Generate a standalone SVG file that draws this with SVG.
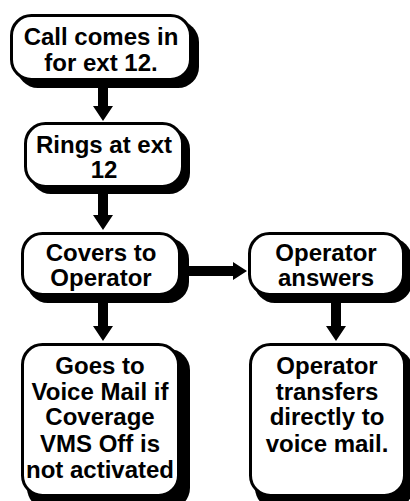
<svg xmlns="http://www.w3.org/2000/svg" width="410" height="501" viewBox="0 0 410 501">
<style>
.sh{fill:#000}
.bx{fill:#fff;stroke:#000;stroke-width:3}
.t{font-family:"Liberation Sans",Arial,sans-serif;font-weight:bold;font-size:24px;fill:#000;text-anchor:middle}
.ar{fill:#000}
</style>
<rect width="410" height="501" fill="#fff"/>
<g id="connectors">
<path class="ar" d="M98,86 H108 V106 H113 L103,121 L93,106 H98 Z"/>
<path class="ar" d="M98,194 H108 V215 H113 L103,230 L93,215 H98 Z"/>
<path class="ar" d="M98,301 H108 V326 H113 L103,341 L93,326 H98 Z"/>
<path class="ar" d="M331,301 H341 V326 H346 L336,341 L326,326 H331 Z"/>
<path class="ar" d="M188,266 H233 V262 L247,271 L233,280 V276 H188 Z"/>
</g>
<g id="n1">
<rect class="sh" x="17" y="21" width="182" height="67" rx="21"/>
<rect class="bx" x="11.5" y="15.5" width="179" height="64" rx="20"/>
<text class="t" x="101" y="45">Call comes in</text>
<text class="t" x="101" y="71">for ext 12.</text>
</g>
<g id="n2">
<rect class="sh" x="30" y="128" width="160" height="66" rx="21"/>
<rect class="bx" x="25.5" y="123.5" width="157" height="63" rx="20"/>
<text class="t" x="104" y="153">Rings at ext</text>
<text class="t" x="104" y="178">12</text>
</g>
<g id="n3">
<rect class="sh" x="27" y="238" width="162" height="65" rx="21"/>
<rect class="bx" x="22.5" y="233.5" width="157" height="61" rx="20"/>
<text class="t" x="101" y="261">Covers to</text>
<text class="t" x="101" y="286">Operator</text>
</g>
<g id="n4">
<rect class="sh" x="254" y="238" width="158" height="65" rx="21"/>
<rect class="bx" x="249.5" y="233.5" width="154" height="61" rx="20"/>
<text class="t" x="326" y="261">Operator</text>
<text class="t" x="326" y="286">answers</text>
</g>
<g id="n5">
<rect class="sh" x="27" y="349" width="163" height="160" rx="21"/>
<rect class="bx" x="22.5" y="344.5" width="156" height="151" rx="20"/>
<text class="t" x="100" y="374">Goes to</text>
<text class="t" x="100" y="400">Voice Mail if</text>
<text class="t" x="100" y="425">Coverage</text>
<text class="t" x="100" y="452">VMS Off is</text>
<text class="t" x="100" y="478">not activated</text>
</g>
<g id="n6">
<rect class="sh" x="255" y="349" width="158" height="160" rx="21"/>
<rect class="bx" x="250.5" y="344.5" width="154" height="151" rx="20"/>
<text class="t" x="327" y="374">Operator</text>
<text class="t" x="327" y="400">transfers</text>
<text class="t" x="327" y="425">directly to</text>
<text class="t" x="327" y="452">voice mail.</text>
</g>
</svg>
